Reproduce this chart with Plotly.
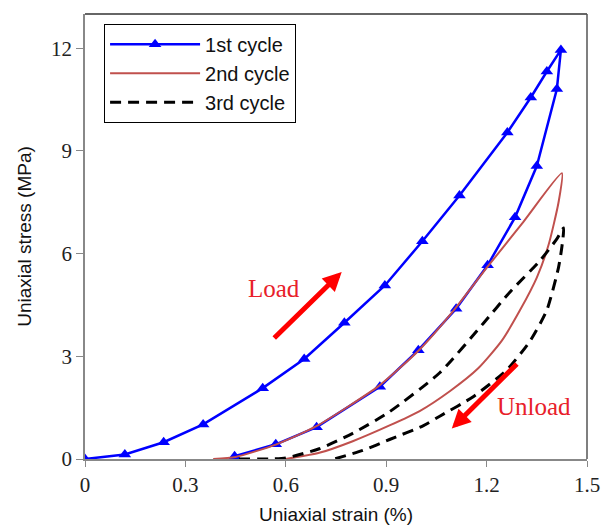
import plotly.graph_objects as go

# 1st cycle (markers, straight segments): loading then unloading
c1_x = [0.0, 0.119, 0.235, 0.353, 0.531, 0.655, 0.775, 0.896, 1.008, 1.119, 1.262, 1.332, 1.380, 1.422,
        1.410, 1.350, 1.285, 1.203, 1.109, 0.996, 0.881, 0.692, 0.570, 0.447]
c1_y = [0.0, 0.13, 0.49, 1.01, 2.07, 2.92, 3.98, 5.07, 6.36, 7.70, 9.54, 10.56, 11.32, 11.95,
        10.81, 8.56, 7.06, 5.66, 4.39, 3.18, 2.11, 0.93, 0.43, 0.08]

# 2nd cycle (smooth)
c2_x = [0.383, 0.45, 0.57, 0.69, 0.88, 1.0, 1.10, 1.20, 1.31, 1.425,
        1.415, 1.385, 1.35, 1.30, 1.245, 1.175, 1.09, 1.00, 0.91, 0.80, 0.70, 0.60]
c2_y = [0.0, 0.06, 0.42, 0.95, 2.15, 3.2, 4.32, 5.58, 6.93, 8.35,
        7.5, 6.25, 5.3, 4.35, 3.45, 2.65, 1.98, 1.40, 0.98, 0.52, 0.18, 0.0]

# 3rd cycle (smooth, dashed)
c3_x = [0.46, 0.55, 0.60, 0.70, 0.80, 0.91, 1.06, 1.19, 1.27, 1.36, 1.41, 1.43,
        1.425, 1.415, 1.38, 1.33, 1.26, 1.16, 1.06, 1.01, 0.91, 0.83, 0.745]
c3_y = [0.0, 0.0, 0.03, 0.3, 0.75, 1.38, 2.52, 3.96, 4.88, 5.80, 6.43, 6.75,
        6.2, 5.6, 4.35, 3.45, 2.6, 1.82, 1.25, 0.97, 0.57, 0.25, 0.0]

x_ticks = [0, 0.3, 0.6, 0.9, 1.2, 1.5]
x_ticklabels = ["0", "0.3", "0.6", "0.9", "1.2", "1.5"]
y_ticks = [0, 3, 6, 9, 12]
y_ticklabels = ["0", "3", "6", "9", "12"]

fig = go.Figure()
fig.add_trace(go.Scatter(x=c1_x, y=c1_y, mode="lines+markers", name="1st cycle",
                         line=dict(color="#0000FF", width=2.5),
                         marker=dict(symbol="triangle-up", size=11, color="#0000FF")))
fig.add_trace(go.Scatter(x=c2_x, y=c2_y, mode="lines", name="2nd cycle",
                         line=dict(color="#C0504D", width=2, shape="spline", smoothing=0.6)))
fig.add_trace(go.Scatter(x=c3_x, y=c3_y, mode="lines", name="3rd cycle",
                         line=dict(color="#000000", width=3, dash="11px,7px", shape="spline", smoothing=0.6)))

tick_font = dict(family="Liberation Serif", size=21, color="#222222")
title_font = dict(family="Liberation Sans", size=19, color="#111111")

fig.update_xaxes(range=[0, 1.5], tickvals=x_ticks, ticktext=x_ticklabels, tickfont=tick_font,
                 ticks="outside", ticklen=6, tickcolor="#888888", showline=True, linecolor="#888888",
                 linewidth=1.5, showgrid=False, zeroline=False, automargin=False,
                 title=dict(text="Uniaxial strain (%)", font=title_font, standoff=12))
fig.update_yaxes(range=[0, 13], tickvals=y_ticks, ticktext=y_ticklabels, tickfont=tick_font,
                 ticks="outside", ticklen=7, tickcolor="#888888", showline=True, linecolor="#888888",
                 linewidth=1.5, showgrid=False, zeroline=False, automargin=False,
                 title=dict(text="Uniaxial stress (MPa)", font=title_font, standoff=14))

# frame top and right
fig.add_shape(type="line", xref="paper", yref="paper", x0=0, x1=1, y0=1, y1=1,
              line=dict(color="#333333", width=1.5))
fig.add_shape(type="line", xref="paper", yref="paper", x0=1, x1=1, y0=0, y1=1,
              line=dict(color="#555555", width=1.5))

red = "#FF0000"
fig.add_annotation(x=0.767, y=5.46, ax=0.561, ay=3.49, xref="x", yref="y", axref="x", ayref="y",
                   showarrow=True, arrowhead=2, arrowsize=0.75, arrowwidth=5, arrowcolor=red, text="")
fig.add_annotation(x=1.096, y=0.89, ax=1.295, ay=2.82, xref="x", yref="y", axref="x", ayref="y",
                   showarrow=True, arrowhead=2, arrowsize=0.75, arrowwidth=5, arrowcolor=red, text="")
fig.add_annotation(x=0.564, y=4.99, xref="x", yref="y", text="Load", showarrow=False,
                   font=dict(family="Liberation Serif", size=25, color="#E8202A"))
fig.add_annotation(x=1.342, y=1.52, xref="x", yref="y", text="Unload", showarrow=False,
                   font=dict(family="Liberation Serif", size=25, color="#E8202A"))

fig.update_layout(
    width=602, height=525,
    margin=dict(l=85, r=15, t=14, b=66, autoexpand=False),
    plot_bgcolor="white", paper_bgcolor="white",
    legend=dict(x=0.038, y=0.978, xanchor="left", yanchor="top",
                bgcolor="white", bordercolor="#000000", borderwidth=1,
                font=dict(family="Liberation Sans", size=20, color="#111111"),
                itemwidth=90, tracegroupgap=0),
)

fig.write_html("out.html")
